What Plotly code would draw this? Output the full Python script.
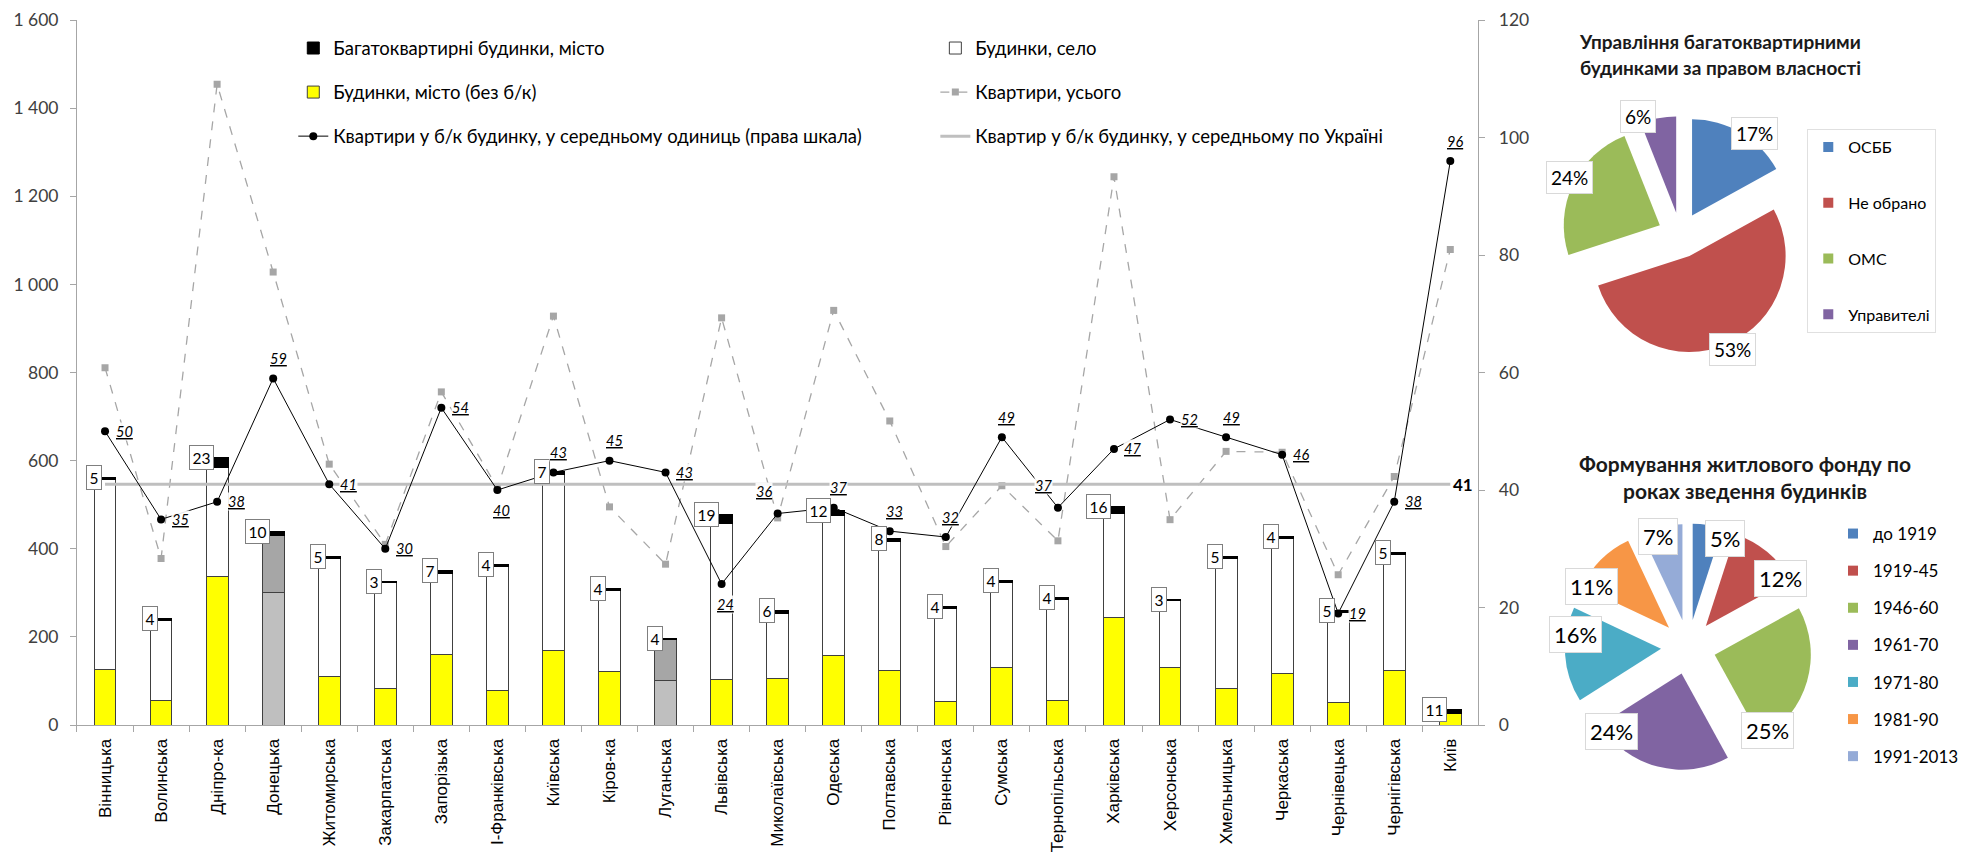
import math
import plotly.graph_objects as go

# ---------------- data ----------------
regions = ["Вінницька", "Волинська", "Дніпро-ка", "Донецька", "Житомирська", "Закарпатська",
           "Запорізька", "І-Франківська", "Київська", "Кіров-ка", "Луганська", "Львівська",
           "Миколаївська", "Одеська", "Полтавська", "Рівненська", "Сумська", "Тернопільська",
           "Харківська", "Херсонська", "Хмельницька", "Черкаська", "Чернівецька", "Чернігівська", "Київ"]

houses_city = [126, 55, 336, 300, 110, 83, 159, 79, 168, 122, 100, 104, 106, 158, 123, 54, 130, 55,
               245, 130, 83, 117, 52, 123, 25]
houses_village = [431, 183, 249, 130, 267, 240, 184, 281, 401, 184, 93, 354, 148, 317, 293, 211, 193, 230,
                  235, 152, 295, 307, 203, 264, 0]
multi_apartment_city = [5, 4, 23, 10, 5, 3, 7, 4, 7, 4, 4, 19, 6, 12, 8, 4, 4, 4, 16, 3, 5, 4, 5, 5, 11]
flats_total = [811, 378, 1454, 1028, 592, 410, 756, 538, 928, 495, 365, 924, 470, 941, 690, 405, 543, 418,
               1244, 466, 621, 619, 341, 564, 1079]
flats_per_building = [50, 35, 38, 59, 41, 30, 54, 40, 43, 45, 43, 24, 36, 37, 33, 32, 49, 37, 47, 52, 49, 46,
                      19, 38, 96]
ukraine_avg = 41
gray_regions = ["Донецька", "Луганська"]

left_ticks = [0, 200, 400, 600, 800, 1000, 1200, 1400, 1600]
left_ticktext = ["0", "200", "400", "600", "800", "1 000", "1 200", "1 400", "1 600"]
right_ticks = [0, 20, 40, 60, 80, 100, 120]

pie1_title = ["Управління багатоквартирними", "будинками за правом власності"]
pie1_labels = ["ОСББ", "Не обрано", "ОМС", "Управителі"]
pie1_values = [17, 53, 24, 6]
pie2_title = ["Формування житлового фонду по", "роках зведення будинків"]
pie2_labels = ["до 1919", "1919-45", "1946-60", "1961-70", "1971-80", "1981-90", "1991-2013"]
pie2_values = [5, 12, 25, 24, 16, 11, 7]

# ---------------- styles ----------------
W, H = 1964, 865
FONT_C = "Lato, 'Open Sans', sans-serif"
FONT_A = "'Liberation Sans', Arial, sans-serif"
pie1_colors = ["#4F81BD", "#C0504D", "#9BBB59", "#8064A2"]
pie2_colors = ["#4F81BD", "#C0504D", "#9BBB59", "#8064A2", "#4BACC6", "#F79646", "#95ABD7"]
label_pos = ["r", "r", "r", "t", "r", "r", "r", "b", "t", "t", "r", "b", "tl", "t", "t", "t", "t", "tl",
             "r", "r", "t", "r", "r", "r", "t"]
pos_shift = {"r": (19, 0), "t": (5, -20), "b": (4, 20), "tl": (-14, -22)}
pie1_nudge = [6, -1, 2, -9]
pie2_nudge = [10, 14, 30, 28, 10, -13, -3]

X0, X1 = 77.7, 1492.0   # plot area px
Y0, Y1 = 20.0, 725.0


def px(x):
    return x / W


def py(y):
    return 1 - y / H


city_colors = ["#BFBFBF" if r in gray_regions else "#FFFF00" for r in regions]
village_colors = ["#A6A6A6" if r in gray_regions else "#FFFFFF" for r in regions]
bar_line = dict(color="#404040", width=1)
BAR_W = 0.39

fig = go.Figure()
fig.add_trace(go.Bar(x=regions, y=houses_city, name="Будинки, місто (без б/к)",
                     marker=dict(color=city_colors, line=bar_line), width=BAR_W,
                     legend="legend", legendgroup="g2", legendrank=2))
fig.add_trace(go.Bar(x=regions, y=houses_village, name="Будинки, село",
                     marker=dict(color=village_colors, line=bar_line), width=BAR_W,
                     legend="legend4", legendgroup="g4", legendrank=4))
fig.add_trace(go.Bar(x=regions, y=multi_apartment_city, name="Багатоквартирні будинки, місто",
                     marker=dict(color="#000000", line=dict(color="#000000", width=1)), width=BAR_W,
                     legend="legend", legendgroup="g1", legendrank=1))
fig.add_trace(go.Scatter(x=regions, y=flats_total, name="Квартири, усього", mode="lines+markers",
                         line=dict(color="#A6A6A6", width=1.3, dash="dash"),
                         marker=dict(symbol="square", size=7, color="#A6A6A6"),
                         legend="legend4", legendgroup="g5", legendrank=5))
fig.add_trace(go.Scatter(x=regions, y=[ukraine_avg] * len(regions), yaxis="y2",
                         name="Квартир у б/к будинку, у середньому по Україні", mode="lines",
                         line=dict(color="#BFBFBF", width=3),
                         legend="legend4", legendgroup="g6", legendrank=6))
fig.add_trace(go.Scatter(x=regions, y=flats_per_building, yaxis="y2",
                         name="Квартири у б/к будинку, у середньому одиниць (права шкала)",
                         mode="lines+markers", line=dict(color="#000000", width=1),
                         marker=dict(symbol="circle", size=8, color="#000000"),
                         legend="legend", legendgroup="g3", legendrank=3))

# legend entries for the pies (own legends with custom spacing)
for lab, col in zip(pie1_labels, pie1_colors):
    fig.add_trace(go.Scatter(x=[None], y=[None], mode="markers", name=lab,
                             marker=dict(symbol="square", size=10, color=col),
                             legend="legend2", legendgroup="p1" + lab, hoverinfo="skip"))
for lab, col in zip(pie2_labels, pie2_colors):
    fig.add_trace(go.Scatter(x=[None], y=[None], mode="markers", name=lab,
                             marker=dict(symbol="square", size=10, color=col),
                             legend="legend3", legendgroup="p2" + lab, hoverinfo="skip"))

# pies
PIE1_C, PIE2_C = (1696, 235), (1704, 647)
PIE_R = 97
PULL1, PULL2 = 0.237, 0.285
for (cx, cy), pull, vals, cols, labs in [(PIE1_C, PULL1, pie1_values, pie1_colors, pie1_labels),
                                          (PIE2_C, PULL2, pie2_values, pie2_colors, pie2_labels)]:
    half = PIE_R * (1 + pull)
    fig.add_trace(go.Pie(values=vals, labels=labs, sort=False, direction="clockwise", rotation=0,
                         pull=[pull] * len(vals), marker=dict(colors=cols, line=dict(width=0)),
                         textinfo="none", showlegend=False,
                         domain=dict(x=[px(cx - half), px(cx + half)], y=[py(cy + half), py(cy - half)])))

annotations = []
# boxed counts of multi-apartment buildings
tot = [a + b + c for a, b, c in zip(houses_city, houses_village, multi_apartment_city)]
cat_px = (X1 - X0) / len(regions)
for r, t, n in zip(regions, tot, multi_apartment_city):
    annotations.append(dict(x=r, y=t, xref="x", yref="y", text=str(n), showarrow=False,
                            xanchor="right", yanchor="middle", xshift=-BAR_W / 2 * cat_px + 8,
                            bgcolor="#FFFFFF", bordercolor="#7F7F7F", borderwidth=1, borderpad=2.5,
                            font=dict(family=FONT_C, size=15.5, color="#000000")))
# labels on flats-per-building line
for r, v, p in zip(regions, flats_per_building, label_pos):
    dx, dy = pos_shift[p]
    annotations.append(dict(x=r, y=v, xref="x", yref="y2", text="<i><u>%d</u></i>" % v, showarrow=False,
                            xanchor="center", yanchor="middle",
                            xshift=dx, yshift=-dy, bgcolor="rgba(255,255,255,0.9)", borderpad=0,
                            font=dict(family=FONT_C, size=14.5, color="#000000")))
annotations.append(dict(x=regions[-1], y=ukraine_avg, xref="x", yref="y2", text="<b>%d</b>" % ukraine_avg,
                        showarrow=False, xanchor="left", yanchor="middle", xshift=1,
                        font=dict(family=FONT_C, size=17, color="#000000")))

# pie titles
for lines, cx, ys, fs in [(pie1_title, 1736, (42, 68), 19), (pie2_title, 1761, (463, 490), 21)]:
    for line, yy in zip(lines, ys):
        annotations.append(dict(x=px(cx), y=py(yy), xref="paper", yref="paper", text="<b>%s</b>" % line,
                                xanchor="center", yanchor="middle",
                                showarrow=False, font=dict(family=FONT_C, size=fs, color="#1a1a1a")))

# pie percentage labels, placed from slice angles
for (cx, cy), vals, nudge, dist, fsize in [(PIE1_C, pie1_values, pie1_nudge, 126, 19),
                                          (PIE2_C, pie2_values, pie2_nudge, 115, 22)]:
    total = sum(vals)
    cum = 0
    for v, nd in zip(vals, nudge):
        mid = (cum + v / 2) / total * 360 + nd
        cum += v
        lx = cx + dist * math.sin(math.radians(mid))
        ly = cy - dist * math.cos(math.radians(mid))
        annotations.append(dict(x=px(lx), y=py(ly), xref="paper", yref="paper",
                                xanchor="center", yanchor="middle",
                                text="%d%%" % round(v / total * 100), showarrow=False,
                                bgcolor="#FFFFFF", bordercolor="#D9D9D9", borderwidth=1, borderpad=4,
                                font=dict(family=FONT_C, size=fsize, color="#000000")))

tick_font = dict(family=FONT_C, size=17.5, color="#404040")
fig.update_layout(
    template="none",
    width=W, height=H,
    margin=dict(l=0, r=0, t=0, b=0),
    paper_bgcolor="#FFFFFF", plot_bgcolor="#FFFFFF",
    barmode="stack",
    showlegend=True,
    xaxis=dict(domain=[px(X0), px(X1)], range=[-0.5, len(regions) - 0.5], type="category",
               showgrid=False, zeroline=False, showline=True, linecolor="#A6A6A6", linewidth=1,
               ticks="outside", tickson="boundaries", ticklen=6, tickcolor="#A6A6A6",
               tickangle=-90, tickfont=dict(family=FONT_A, size=17, color="#000000"),
               ticklabelstandoff=6, automargin=False, fixedrange=True),
    yaxis=dict(domain=[py(Y1), py(Y0)], range=[0, 1600], tickvals=left_ticks, ticktext=left_ticktext,
               showgrid=False, zeroline=False, showline=True, linecolor="#A6A6A6", linewidth=1,
               ticks="outside", ticklen=6, tickcolor="#A6A6A6", tickfont=tick_font,
               ticklabelstandoff=8, automargin=False),
    yaxis2=dict(domain=[py(Y1), py(Y0)], range=[0, 120], tickvals=right_ticks, overlaying="y", side="right",
                anchor="x", showgrid=False, zeroline=False, showline=True, linecolor="#A6A6A6", linewidth=1,
                ticks="outside", ticklen=6, tickcolor="#A6A6A6", tickfont=tick_font,
                ticklabelstandoff=10, automargin=False),
    legend=dict(x=px(296), y=py(29.5), xanchor="left", yanchor="top", orientation="v",
                traceorder="grouped", tracegroupgap=17, bgcolor="rgba(0,0,0,0)",
                font=dict(family=FONT_C, size=18.5, color="#000000")),
    legend4=dict(x=px(944), y=py(29.5), xanchor="left", yanchor="top", orientation="v",
                 traceorder="grouped", tracegroupgap=17, bgcolor="rgba(0,0,0,0)",
                 font=dict(family=FONT_C, size=18.5, color="#000000")),
    legend2=dict(x=px(1824), y=py(129), xanchor="left", yanchor="top", orientation="v",
                 traceorder="grouped", tracegroupgap=32, bgcolor="#FFFFFF", bordercolor="#E0E0E0",
                 borderwidth=1, font=dict(family=FONT_C, size=16, color="#000000")),
    legend3=dict(x=px(1850), y=py(516), xanchor="left", yanchor="top", orientation="v",
                 traceorder="grouped", tracegroupgap=12, bgcolor="rgba(0,0,0,0)",
                 font=dict(family=FONT_C, size=17, color="#000000")),
    annotations=annotations,
)

fig.write_html("out.html")
